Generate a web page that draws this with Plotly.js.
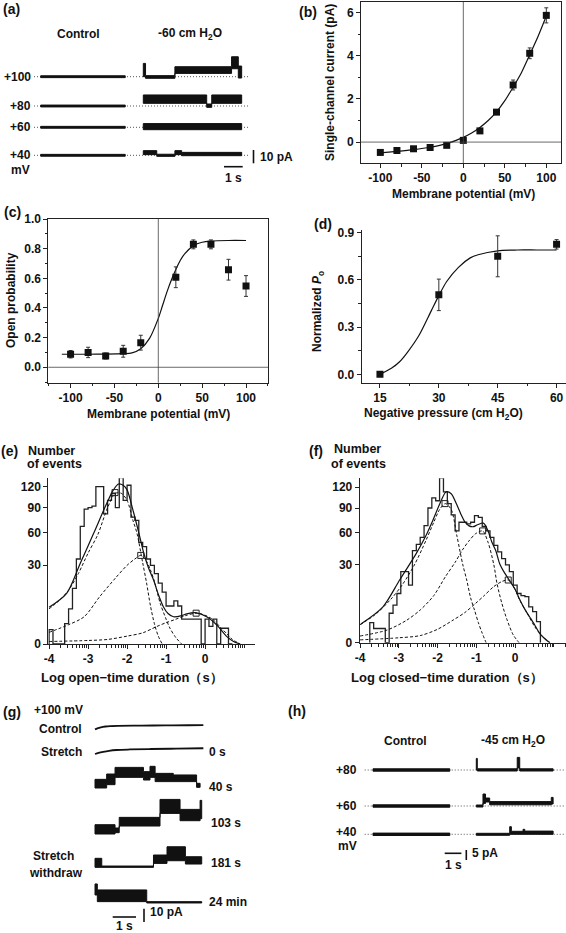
<!DOCTYPE html>
<html><head><meta charset="utf-8">
<script src="https://cdn.plot.ly/plotly-3.0.1.min.js"></script>
<style>html,body{margin:0;padding:0;background:#fff}#plot{width:566px;height:933px}</style>
</head><body><div id="plot"></div>
<script>
// ================= DATA =================
// (b) I-V relation
const bV   = [-100,-80,-60,-40,-20,0,20,40,60,80,100];
const bI   = [-0.48,-0.39,-0.31,-0.25,-0.15,0.08,0.52,1.39,2.65,4.12,5.88];
const bErr = [0.04,0.04,0.04,0.04,0.05,0.06,0.08,0.1,0.23,0.25,0.35];
const bFitV = [-100,-80,-60,-40,-20,0,10,20,30,40,50,60,70,80,90,100];
const bFitI = [-0.5,-0.43,-0.35,-0.24,-0.07,0.22,0.42,0.68,1.0,1.4,1.92,2.55,3.22,4.05,4.9,5.85];
// (c) open probability vs voltage
const cV   = [-100,-80,-60,-40,-20,20,40,60,80,100];
const cP   = [0.088,0.10,0.076,0.108,0.166,0.607,0.829,0.829,0.658,0.548];
const cErr = [0.025,0.035,0.02,0.04,0.05,0.07,0.03,0.03,0.07,0.07];
const cFitV = [-110,-80,-60,-40,-30,-20,-10,0,5,10,15,20,25,30,40,50,60,80,100];
const cFitP = [0.088,0.088,0.089,0.092,0.097,0.125,0.195,0.33,0.42,0.51,0.59,0.66,0.72,0.765,0.82,0.843,0.851,0.855,0.855];
// (d) normalized Po vs negative pressure
const dPress = [15,30,45,60];
const dPo    = [0.0,0.505,0.75,0.826];
const dErr   = [0,0.1,0.13,0.03];
const dFitX  = [15,18,20,22,25,28,30,32,35,38,40,45,50,55,60];
const dFitY  = [0.0,0.04,0.08,0.14,0.25,0.40,0.50,0.59,0.68,0.74,0.76,0.785,0.79,0.79,0.79];
// (e) open-time histogram (log10 s), counts
const eEdges = [-4.0,-3.9,-3.8,-3.7,-3.6,-3.5,-3.4,-3.3,-3.2,-3.1,-3.0,-2.9,-2.8,-2.7,-2.6,-2.5,-2.4,-2.3,-2.2,-2.1,-2.0,-1.9,-1.8,-1.7,-1.6,-1.5,-1.4,-1.3,-1.2,-1.1,-1.0,-0.9,-0.8,-0.7,-0.6,-0.5,-0.4,-0.3,-0.2,-0.1,0.0,0.1,0.2,0.3,0.4,0.5,0.6,0.7];
const eCounts = [1,0,0,0,2,6,15,35,67,88,90,92,120,120,82,100,110,90,134,100,122,78,74,50,46,35,30,24,18,13,7,7,9,7,3,3,3,3,3,0,3,1.5,3,0,1.2,1.2,0];
const eTotX = [-4.0,-3.55,-3.2,-2.86,-2.52,-2.35,-2.22,-2.1,-2.0,-1.84,-1.7,-1.58,-1.45,-1.32,-1.2,-1.07,-0.95,-0.81,-0.6,-0.47,-0.25,0.04,0.3,0.56,0.73,0.9];
const eTotY = [6.5,12.4,31.5,59,96,115,124,122,115,85,60,41,28,19.8,12,6.75,4.5,3.6,3.9,4.4,4.75,3.6,1.75,0.26,0.03,0];
const eC1X = [-4.0,-3.75,-3.5,-3.25,-3.0,-2.75,-2.5,-2.3,-2.15,-2.0,-1.85,-1.75,-1.6,-1.5,-1.4,-1.3,-1.2,-1.1];
const eC1Y = [6,9,14,24,40,58,90,110,110,100,74,60,32,18,7,2,0.3,0];
const eC2X = [-4.0,-3.5,-3.1,-2.7,-2.3,-2.0,-1.8,-1.65,-1.5,-1.4,-1.3,-1.15,-1.0,-0.9,-0.75,-0.6];
const eC2Y = [0.66,1.8,3.6,10.9,21,30,35,38,33,26.5,19,8,3,1.2,0.2,0];
const eC3X = [-4.0,-3.0,-2.5,-2.0,-1.6,-1.25,-1.0,-0.8,-0.5,-0.23,0.0,0.2,0.4,0.56,0.7,0.9];
const eC3Y = [0.03,0.06,0.1,0.3,0.6,1.45,2.2,2.8,3.9,4.6,4.0,2.9,1.3,0.5,0.1,0];
const eMarkX = [-2.31,-1.65,-0.23];
const eMarkY = [111,38,4.6];
// (f) closed-time histogram
const fEdges = [-3.75,-3.65,-3.55,-3.45,-3.35,-3.25,-3.15,-3.05,-2.95,-2.85,-2.75,-2.65,-2.55,-2.45,-2.35,-2.25,-2.15,-2.05,-1.95,-1.85,-1.75,-1.65,-1.55,-1.45,-1.35,-1.25,-1.15,-1.05,-0.95,-0.85,-0.75,-0.65,-0.55,-0.45,-0.35,-0.25,-0.15,-0.05,0.05,0.15,0.25,0.35,0.45,0.55,0.65];
const fCounts = [2,1,1,1,0,4.3,7,12,25,25,16.5,42,48,55,68,90,104,100,135,113,96,81,62,72,72,70,72,80,78,67,62,55,47,41,35,30,25,16.5,12,11,10.5,6.4,4.8,2.2];
const fTotX = [-3.98,-3.41,-2.98,-2.55,-2.3,-2.12,-1.95,-1.78,-1.65,-1.52,-1.4,-1.3,-1.2,-1.09,-0.97,-0.82,-0.7,-0.6,-0.5,-0.4,-0.27,-0.14,0.0,0.11,0.25,0.37,0.5,0.63,0.75,0.89];
const fTotY = [1.73,6.4,19.5,39.6,57,74.6,95,113,110,96,82,72.6,68,66.7,69,71,62,50,42,31,24,19,14,9.5,5.5,3.35,1.6,0.43,0.1,0];
const fC1X = [-4.0,-3.6,-3.2,-2.9,-2.6,-2.3,-2.1,-1.95,-1.8,-1.65,-1.5,-1.35,-1.25,-1.15,-1.05,-0.95,-0.85,-0.75];
const fC1Y = [1.6,4,9.5,17,30,52,72,88,96,88,56,30,19.5,10,5.3,2,0.44,0];
const fC2X = [-4.0,-3.3,-2.8,-2.45,-2.1,-1.8,-1.55,-1.36,-1.2,-1.02,-0.84,-0.7,-0.55,-0.47,-0.35,-0.21,-0.05,0.1];
const fC2Y = [0.22,0.8,2.5,5.3,11,21.6,32,42.7,51,59,62,50,30,17.5,8,2.6,0.3,0];
const fC3X = [-4.0,-3.0,-2.45,-2.0,-1.59,-1.3,-1.02,-0.8,-0.56,-0.35,-0.18,0.0,0.1,0.3,0.5,0.7,0.9];
const fC3Y = [0.04,0.12,0.25,0.9,2.6,4.5,7.7,11,15.5,18.5,19.5,14,9.5,4.5,1.3,0.2,0];
const fMarkX = [-1.81,-0.84,-0.18];
const fMarkY = [96,62,19.5];

// (a) single-channel records (time s, current pA: segment breakpoints, lower/upper envelope)
const aCtrl_t = [0,4.52];
const aC100_lo=[-0.7], aC100_hi=[0.7];
const aC80_lo=[-0.7],  aC80_hi=[0.7];
const aC60_lo=[-0.7],  aC60_hi=[0.7];
const aC40_lo=[-0.7],  aC40_hi=[0.7];
const aS100_t=[0,0.12,1.69,4.72,5.08,5.26], aS100_lo=[0,-1.2,2.5,6,-1], aS100_hi=[10,0.8,7.5,15,8];
const aS80_t=[0,3.39,3.66,5.26], aS80_lo=[2,-1,2], aS80_hi=[8.3,1.5,8.3];
const aS60_t=[0,5.26], aS60_lo=[-1.8], aS60_hi=[2.8];
const aS40_t=[0,0.72,1.69,2.05,5.26], aS40_lo=[0.5,-0.8,0.5,-0.3], aS40_hi=[3.5,0.8,3.5,2.2];
// (g) records at +100 mV
const gCtrl_t=[0,0.1,0.25,0.45,0.65,1.0,2.0,3.0,4.0,4.65];
const gCtrl_i=[-2.8,-2.0,-1.2,-0.6,-0.3,-0.1,0.1,0.2,0.35,0.45];
const gS0_t=[0,0.15,0.35,0.6,0.93,1.5,2.4,3.5,4.65];
const gS0_i=[-3.0,-2.2,-1.4,-0.6,0,0.4,0.75,1.0,1.3];
const g40_t=[0,0.5,0.86,2.08,2.36,2.58,3.36,4.36,4.51], g40_lo=[-1.5,1,6.5,4.5,6.5,3.3,3.3,-1], g40_hi=[5,9,14,10.8,14.8,9.5,8.3,2];
const g103_t=[0,0.86,1.04,2.79,3.65,4.51,4.58], g103_lo=[-1.5,-0.5,4.5,14,8.5,10], g103_hi=[5.5,3,11,24.5,17,23.8];
const g181_t=[0,0.29,2.51,3.09,3.88,4.58], g181_lo=[-0.5,-0.5,2.5,4.5,2], g181_hi=[6.3,0.5,8.8,15,7.5];
const g24_t=[0,0.1,2.22,4.58], g24_lo=[5.5,0.5,-0.5], g24_hi=[13.8,9.3,0.5];
// (h) records
const hCtrl_t=[0,4.6];
const hC80_lo=[-0.6], hC80_hi=[0.6];
const hC60_lo=[-0.6], hC60_hi=[0.6];
const hC40_lo=[-0.6], hC40_hi=[0.6];
const hS80_t=[0,0.06,2.45,2.6,4.6], hS80_lo=[0,-0.5,1,-0.5], hS80_hi=[5.8,0.6,6.3,0.6];
const hS60_t=[0,0.4,0.55,0.8,4.49,4.6], hS60_lo=[-0.5,1.3,2,0.6,1], hS60_hi=[0.5,6,4,2.2,4.3];
const hS40_t=[0,2.0,2.1,2.8,2.9,4.6], hS40_lo=[-0.5,0,0,0,0], hS40_hi=[0.5,3.8,1.5,2.5,1.6];

// tick labels
const bXTicks=[-100,-50,0,50,100], bXText=['-100','-50','0','50','100'];
const bYTicks=[0,2,4,6], bYText=['0','2','4','6'];
const cYTicks=[0,0.2,0.4,0.6,0.8,1.0], cYText=['0.0','0.2','0.4','0.6','0.8','1.0'];
const dXTicks=[15,30,45,60], dXText=['15','30','45','60'];
const dYTicks=[0,0.3,0.6,0.9], dYText=['0.0','0.3','0.6','0.9'];
const hXTicks=[-4,-3,-2,-1,0], hXText=['-4','-3','-2','-1','0'];
const hYCounts=[0,30,60,90,120], hYText=['0','30','60','90','120'];

// ================= LAYOUT HELPERS =================
const W=566,H=933;
const FONT='Liberation Sans, Arial, Helvetica, sans-serif';
const INK='#111';
const px=x=>x/W, py=y=>1-y/H;
function xr(l,r,o,s){return [(l-o)/s,(r-o)/s];}
function yr(t,b,o,s){return [(o-b)/s,(o-t)/s];}
const sq=v=>Math.sqrt(Math.max(v,0));

const data=[];
function band(t,lo,hi,t0,off,xa,ya,w){
  const xs=[],ys=[];
  for(let i=0;i<lo.length;i++){xs.push(t0+t[i],t0+t[i+1]);ys.push(off+hi[i],off+hi[i]);}
  for(let i=lo.length-1;i>=0;i--){xs.push(t0+t[i+1],t0+t[i]);ys.push(off+lo[i],off+lo[i]);}
  xs.push(xs[0]);ys.push(ys[0]);
  data.push({type:'scatter',mode:'lines',x:xs,y:ys,fill:'toself',fillcolor:INK,line:{color:INK,width:w||1},xaxis:xa,yaxis:ya,hoverinfo:'skip'});
}
function curve(t,v,t0,off,xa,ya,w){
  data.push({type:'scatter',mode:'lines',x:t.map(a=>a+t0),y:v.map(a=>a+off),line:{color:INK,width:w||1.6,shape:'spline'},xaxis:xa,yaxis:ya,hoverinfo:'skip'});
}
function dotted(x0,x1,y,xa,ya){
  data.push({type:'scatter',mode:'lines',x:[x0,x1],y:[y,y],line:{color:'#555',width:1,dash:'1px,2px'},xaxis:xa,yaxis:ya,hoverinfo:'skip'});
}
function hist(edges,counts,xa,ya){
  const xs=[edges[0]],ys=[0];
  for(let i=0;i<counts.length;i++){xs.push(edges[i]);ys.push(sq(counts[i]));}
  xs.push(edges[counts.length]);ys.push(sq(counts[counts.length-1]));
  xs.push(edges[counts.length]);ys.push(0);
  data.push({type:'scatter',mode:'lines',x:xs,y:ys,line:{color:'#222',width:1.3,shape:'hv'},xaxis:xa,yaxis:ya,hoverinfo:'skip'});
}
function fitLine(x,y,xa,ya,dash,transform){
  data.push({type:'scatter',mode:'lines',x:x,y:transform?y.map(sq):y,line:{color:INK,width:dash?1:1.2,dash:dash?'3px,2px':'solid',shape:'spline',smoothing:0.8},xaxis:xa,yaxis:ya,hoverinfo:'skip'});
}
function points(x,y,err,xa,ya){
  data.push({type:'scatter',mode:'markers',x:x,y:y,error_y:{type:'data',array:err,visible:true,thickness:1,width:2,color:'#333'},marker:{symbol:'square',size:7,color:INK},xaxis:xa,yaxis:ya,hoverinfo:'skip'});
}

// ---- (b)
fitLine(bFitV,bFitI,'x','y');
points(bV,bI,bErr,'x','y');
// ---- (c)
fitLine(cFitV,cFitP,'x2','y2');
points(cV,cP,cErr,'x2','y2');
// ---- (d)
fitLine(dFitX,dFitY,'x3','y3');
points(dPress,dPo,dErr,'x3','y3');
// ---- (e)
hist(eEdges,eCounts,'x4','y4');
fitLine(eC1X,eC1Y,'x4','y4',true,true);
fitLine(eC2X,eC2Y,'x4','y4',true,true);
fitLine(eC3X,eC3Y,'x4','y4',true,true);
fitLine(eTotX,eTotY,'x4','y4',false,true);
data.push({type:'scatter',mode:'markers',x:eMarkX,y:eMarkY.map(sq),marker:{symbol:'square-open',size:6,color:'#222',line:{width:1}},xaxis:'x4',yaxis:'y4',hoverinfo:'skip'});
// ---- (f)
hist(fEdges,fCounts,'x5','y5');
fitLine(fC1X,fC1Y,'x5','y5',true,true);
fitLine(fC2X,fC2Y,'x5','y5',true,true);
fitLine(fC3X,fC3Y,'x5','y5',true,true);
fitLine(fTotX,fTotY,'x5','y5',false,true);
data.push({type:'scatter',mode:'markers',x:fMarkX,y:fMarkY.map(sq),marker:{symbol:'square-open',size:6,color:'#222',line:{width:1}},xaxis:'x5',yaxis:'y5',hoverinfo:'skip'});

// ---- (a) records: 18.7 px/s, 1.33 px/pA
const aSx=18.7, aSy=1.33, aX0=40.7, aY0=155.3;
const aOff=[(aY0-76.7)/aSy,(aY0-106)/aSy,(aY0-127.3)/aSy,0];
const aStretch0=(143.3-aX0)/aSx;
for(const o of aOff) dotted((34-aX0)/aSx,(250-aX0)/aSx,o,'x6','y6');
band(aCtrl_t,aC100_lo,aC100_hi,0,aOff[0],'x6','y6');
band(aCtrl_t,aC80_lo,aC80_hi,0,aOff[1],'x6','y6');
band(aCtrl_t,aC60_lo,aC60_hi,0,aOff[2],'x6','y6');
band(aCtrl_t,aC40_lo,aC40_hi,0,aOff[3],'x6','y6');
band(aS100_t,aS100_lo,aS100_hi,aStretch0,aOff[0],'x6','y6');
band(aS80_t,aS80_lo,aS80_hi,aStretch0,aOff[1],'x6','y6');
band(aS60_t,aS60_lo,aS60_hi,aStretch0,aOff[2],'x6','y6');
band(aS40_t,aS40_lo,aS40_hi,aStretch0,aOff[3],'x6','y6');

// ---- (g) records: 23.3 px/s, 1.33 px/pA
const gSx=23.3, gSy=1.33, gX0=95, gY0=902.3;
const gOff={ctrl:(gY0-725.7)/gSy, s0:(gY0-750)/gSy, s40:(gY0-786)/gSy, s103:(gY0-832)/gSy, s181:(gY0-866.7)/gSy, s24:0};
curve(gCtrl_t,gCtrl_i,0,gOff.ctrl,'x7','y7',1.8);
curve(gS0_t,gS0_i,0,gOff.s0,'x7','y7',1.8);
band(g40_t,g40_lo,g40_hi,0,gOff.s40,'x7','y7');
band(g103_t,g103_lo,g103_hi,0,gOff.s103,'x7','y7');
band(g181_t,g181_lo,g181_hi,0,gOff.s181,'x7','y7');
band(g24_t,g24_lo,g24_hi,0,gOff.s24,'x7','y7');

// ---- (h) records: 16.7 px/s, 2 px/pA
const hSx=16.7, hSy=2, hX0=373, hY0=834.3;
const hOff=[(hY0-770)/hSy,(hY0-806)/hSy,0];
const hStretch0=(476.3-hX0)/hSx;
for(const o of hOff) dotted((364.7-hX0)/hSx,(564.7-hX0)/hSx,o,'x8','y8');
band(hCtrl_t,hC80_lo,hC80_hi,0,hOff[0],'x8','y8');
band(hCtrl_t,hC60_lo,hC60_hi,0,hOff[1],'x8','y8');
band(hCtrl_t,hC40_lo,hC40_hi,0,hOff[2],'x8','y8');
band(hS80_t,hS80_lo,hS80_hi,hStretch0,hOff[0],'x8','y8');
band(hS60_t,hS60_lo,hS60_hi,hStretch0,hOff[1],'x8','y8');
band(hS40_t,hS40_lo,hS40_hi,hStretch0,hOff[2],'x8','y8');

// ================= AXES =================
const TF={family:FONT,size:12,color:INK,weight:'bold'};
const base={showgrid:false,zeroline:false,showline:true,linecolor:'#222',linewidth:1,ticks:'outside',ticklen:4,tickwidth:1,tickcolor:'#222',tickfont:TF,fixedrange:true};
const ax=o=>Object.assign({},base,o);
const mn=(tick0,dtick,len)=>({tickmode:'linear',tick0:tick0,dtick:dtick,ticks:'outside',ticklen:len||2.5,tickcolor:'#222',tickwidth:1});
const logMinor=[];
for(let d=-5;d<=1;d++) for(let k=2;k<=10;k++) logMinor.push(d+Math.log10(k));
const hidden={visible:false,fixedrange:true,showgrid:false,zeroline:false};

const layout={
  width:W,height:H,margin:{l:0,r:0,t:0,b:0},paper_bgcolor:'#fff',plot_bgcolor:'rgba(0,0,0,0)',showlegend:false,
  font:{family:FONT,color:INK},
  xaxis:ax({domain:[px(361),px(561)],range:[-123.3,117.7],anchor:'y',mirror:true,tickmode:'array',tickvals:bXTicks,ticktext:bXText,minor:mn(0,25)}),
  yaxis:ax({domain:[py(163),py(2)],range:[-0.97,6.5],anchor:'x',mirror:true,tickmode:'array',tickvals:bYTicks,ticktext:bYText,minor:mn(0,1)}),
  xaxis2:ax({domain:[px(48.3),px(268.3)],range:[-125.4,125.4],anchor:'y2',mirror:true,tickmode:'array',tickvals:bXTicks,ticktext:bXText,minor:mn(0,25)}),
  yaxis2:ax({domain:[py(382.7),py(219)],range:[-0.104,1.0],anchor:'x2',mirror:true,tickmode:'array',tickvals:cYTicks,ticktext:cYText,minor:mn(0,0.1)}),
  xaxis3:ax({domain:[px(361.7),1],range:[10.35,62.4],anchor:'y3',tickmode:'array',tickvals:dXTicks,ticktext:dXText,minor:mn(15,7.5)}),
  yaxis3:ax({domain:[py(382.7),py(230)],range:[-0.053,0.917],anchor:'x3',tickmode:'array',tickvals:dYTicks,ticktext:dYText,minor:mn(0,0.15)}),
  xaxis4:ax({domain:[px(48.3),px(255)],range:[-4.02,1.28],anchor:'y4',tickmode:'array',tickvals:hXTicks,ticktext:hXText,minor:{tickmode:'array',tickvals:logMinor,ticks:'outside',ticklen:3,tickcolor:'#222'}}),
  yaxis4:ax({domain:[py(644),py(478.3)],range:[0,11.53],anchor:'x4',tickmode:'array',tickvals:hYCounts.map(sq),ticktext:hYText}),
  xaxis5:ax({domain:[px(359.7),1],range:[-4.01,1.31],anchor:'y5',tickmode:'array',tickvals:hXTicks,ticktext:hXText,minor:{tickmode:'array',tickvals:logMinor,ticks:'outside',ticklen:3,tickcolor:'#222'}}),
  yaxis5:ax({domain:[py(642.7),py(478.3)],range:[0,11.58],anchor:'x5',tickmode:'array',tickvals:hYCounts.map(sq),ticktext:hYText}),
  xaxis6:Object.assign({},hidden,{domain:[px(30),px(300)],range:xr(30,300,aX0,aSx),anchor:'y6'}),
  yaxis6:Object.assign({},hidden,{domain:[py(185),py(55)],range:yr(55,185,aY0,aSy),anchor:'x6'}),
  xaxis7:Object.assign({},hidden,{domain:[px(90),px(210)],range:xr(90,210,gX0,gSx),anchor:'y7'}),
  yaxis7:Object.assign({},hidden,{domain:[py(932),py(715)],range:yr(715,932,gY0,gSy),anchor:'x7'}),
  xaxis8:Object.assign({},hidden,{domain:[px(355),px(566)],range:xr(355,566,hX0,hSx),anchor:'y8'}),
  yaxis8:Object.assign({},hidden,{domain:[py(880),py(745)],range:yr(745,880,hY0,hSy),anchor:'x8'}),
  shapes:[],annotations:[]
};

// crosshair lines in (b) and (c)
const cross=(xa,ya)=>[
  {type:'line',xref:xa,yref:ya+' domain',x0:0,x1:0,y0:0,y1:1,line:{color:'#444',width:0.8}},
  {type:'line',xref:xa+' domain',yref:ya,x0:0,x1:1,y0:0,y1:0,line:{color:'#444',width:0.8}}];
layout.shapes.push(...cross('x','y'),...cross('x2','y2'));
// scale bars
const bar=(xa,ya,x0,x1,y0,y1)=>({type:'line',xref:xa,yref:ya,x0,x1,y0,y1,line:{color:INK,width:1.6}});
layout.shapes.push(
  bar('x6','y6',(224-aX0)/aSx,(224-aX0)/aSx+1,(aY0-166.7)/aSy,(aY0-166.7)/aSy),
  bar('x6','y6',(253.5-aX0)/aSx,(253.5-aX0)/aSx,(aY0-163.3)/aSy,(aY0-163.3)/aSy+10),
  bar('x7','y7',(112.7-gX0)/gSx,(112.7-gX0)/gSx+1,(gY0-917)/gSy,(gY0-917)/gSy),
  bar('x7','y7',(144-gX0)/gSx,(144-gX0)/gSx,(gY0-922)/gSy,(gY0-922)/gSy+10),
  bar('x8','y8',(444.7-hX0)/hSx,(444.7-hX0)/hSx+1,(hY0-853.3)/hSy,(hY0-853.3)/hSy),
  bar('x8','y8',(466.3-hX0)/hSx,(466.3-hX0)/hSx,(hY0-860)/hSy,(hY0-860)/hSy+5)
);

// text
function A(text,x,y,o){
  o=o||{};
  layout.annotations.push({text,x:px(x),y:py(y),xref:'paper',yref:'paper',showarrow:false,
    xanchor:o.xa||'center',yanchor:'middle',textangle:o.rot||0,
    font:{family:FONT,size:o.size||12,color:INK,weight:'bold'}});
}
// (a)
A('(a)',11,9,{size:14});
A('Control',78,33.5);
A('-60 cm H<sub>2</sub>O',190,34);
A('+100',33,76.7,{xa:'right'});A('+80',33,106,{xa:'right'});A('+60',33,127.3,{xa:'right'});A('+40',33,155.3,{xa:'right'});A('mV',32,170,{xa:'right'});
A('10 pA',258,157,{xa:'left'});A('1 s',233.3,178);
// (b)
A('(b)',308,12,{size:14});
A('Single-channel current (pA)',330,83,{rot:-90});
A('Membrane potential (mV)',463,194);
// (c)
A('(c)',12,212,{size:14});
A('Open probability',11,300,{rot:-90});
A('Membrane potential (mV)',158,414);
// (d)
A('(d)',323,224,{size:14});
A('Normalized <i>P</i><sub>o</sub>',318,312,{rot:-90});
A('Negative pressure (cm H<sub>2</sub>O)',443,414);
// (e)
A('(e)',9,451,{size:14});
A('Number',26,450.7,{xa:'left',size:12.5});A('of events',25,464.3,{xa:'left',size:12.5});
A('Log open−time duration（s）',132,677,{size:13});
// (f)
A('(f)',316,451,{size:14});
A('Number',332,449.3,{xa:'left',size:12.5});A('of events',329,464,{xa:'left',size:12.5});
A('Log closed−time duration（s）',447,677,{size:13});
// (g)
A('(g)',12,712,{size:14});
A('+100 mV',32,710,{xa:'left'});
A('Control',84,729.3,{xa:'right'});A('Stretch',84,752.3,{xa:'right'});
A('Stretch',53.5,855.7);A('withdraw',55.7,872.7);
A('0 s',206.7,751.7,{xa:'left'});A('40 s',207.3,787.3,{xa:'left'});A('103 s',209.3,823.3,{xa:'left'});
A('181 s',209.3,863.3,{xa:'left'});A('24 min',207.3,901.7,{xa:'left'});
A('1 s',124.3,925.5);A('10 pA',148,912,{xa:'left'});
// (h)
A('(h)',297,711,{size:14});
A('Control',405.7,740.7);A('-45 cm H<sub>2</sub>O',513,740.7);
A('+80',359,770,{xa:'right'});A('+60',359,806,{xa:'right'});A('+40',359,832,{xa:'right'});A('mV',359,846,{xa:'right'});
A('1 s',453,865);A('5 pA',470,852.7,{xa:'left'});

Plotly.newPlot('plot',data,layout,{staticPlot:true,displayModeBar:false});
</script></body></html>
